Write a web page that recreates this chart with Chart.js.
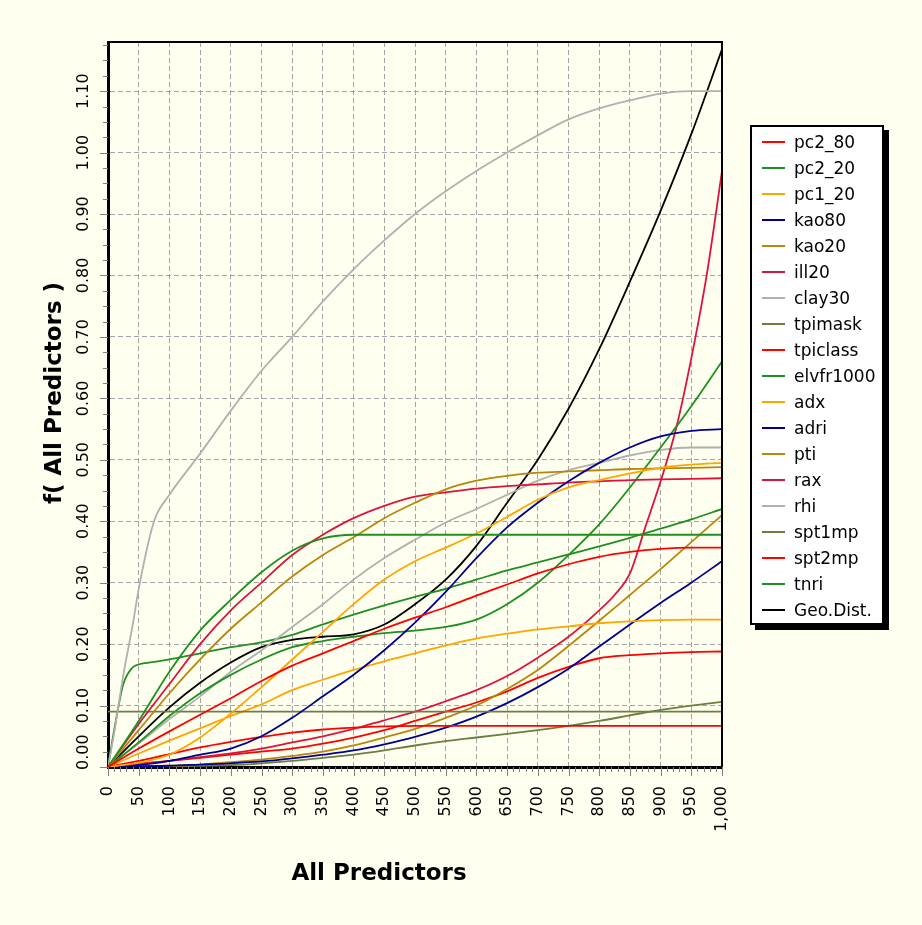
<!DOCTYPE html>
<html>
<head>
<meta charset="utf-8">
<script src="https://cdn.jsdelivr.net/npm/chart.js@4.4.0/dist/chart.umd.min.js"></script>
<style>
  body { margin: 0; background: #FFFFF0; }
  #wrap { position: relative; width: 922px; height: 925px; }
  #legend {
    position: absolute; left: 750px; top: 125px; width: 134px;
    box-sizing: border-box; border: 2px solid #000; background: #fff;
    box-shadow: 5px 5px 0 #000; padding: 2px 0 0 0;
    font-family: "DejaVu Sans", sans-serif; font-size: 17px; color: #000;
  }
  .row { height: 26px; display: flex; align-items: center; }
  .swatch { width: 23px; height: 2px; margin-left: 10px; margin-right: 9px; }
</style>
</head>
<body>
<div id="wrap">
  <canvas id="c" width="922" height="925"></canvas>
  <div id="legend"></div>
</div>
<script>
// Ejes
const X = [0, 50, 100, 150, 200, 250, 300, 350, 400, 450, 500, 550, 600, 650, 700, 750, 800, 850, 900, 950, 1000];
const X_START = [0, 10, 25, 40, 50, 75, 100, 150, 200, 250, 300, 350, 400, 450, 500, 550, 600, 650, 700, 750, 800, 850, 900, 950, 1000];
const X_END = [0, 50, 100, 150, 200, 250, 300, 350, 400, 450, 500, 550, 600, 650, 700, 750, 800, 825, 850, 875, 900, 925, 950, 975, 1000];
const Y_TICKS = [0, 0.1, 0.2, 0.3, 0.4, 0.5, 0.6, 0.7, 0.8, 0.9, 1.0, 1.1];

// Series
const pc2_80 = [0, 0.03, 0.058, 0.085, 0.112, 0.14, 0.165, 0.185, 0.205, 0.225, 0.243, 0.26, 0.279, 0.297, 0.315, 0.33, 0.342, 0.35, 0.355, 0.357, 0.357];
const pc2_20 = [0, 0.075, 0.155, 0.222, 0.272, 0.317, 0.352, 0.372, 0.378, 0.378, 0.378, 0.378, 0.378, 0.378, 0.378, 0.378, 0.378, 0.378, 0.378, 0.378, 0.378];
const pc1_20 = [0, 0.007, 0.02, 0.048, 0.087, 0.13, 0.175, 0.22, 0.265, 0.305, 0.335, 0.357, 0.38, 0.407, 0.435, 0.455, 0.467, 0.478, 0.487, 0.492, 0.495];
const kao80 = [0, 0.003, 0.01, 0.02, 0.03, 0.05, 0.08, 0.115, 0.15, 0.19, 0.235, 0.285, 0.34, 0.39, 0.43, 0.465, 0.495, 0.52, 0.538, 0.547, 0.55];
const kao20 = [0, 0.06, 0.12, 0.175, 0.225, 0.268, 0.31, 0.345, 0.374, 0.405, 0.43, 0.452, 0.466, 0.474, 0.479, 0.481, 0.483, 0.485, 0.486, 0.487, 0.488];
const ill20 = [0, 0.07, 0.135, 0.2, 0.255, 0.30, 0.345, 0.378, 0.405, 0.425, 0.44, 0.447, 0.453, 0.457, 0.46, 0.463, 0.465, 0.467, 0.468, 0.469, 0.47];
const clay30 = [0, 0.055, 0.15, 0.23, 0.29, 0.40, 0.443, 0.51, 0.58, 0.645, 0.70, 0.758, 0.81, 0.857, 0.90, 0.937, 0.97, 1.0, 1.028, 1.054, 1.072, 1.085, 1.096, 1.10, 1.10];
const tpimask = [0.09, 0.09, 0.09, 0.09, 0.09, 0.09, 0.09, 0.09, 0.09, 0.09, 0.09, 0.09, 0.09, 0.09, 0.09, 0.09, 0.09, 0.09, 0.09, 0.09, 0.09];
const tpiclass = [0, 0.01, 0.021, 0.032, 0.041, 0.049, 0.056, 0.061, 0.064, 0.066, 0.067, 0.067, 0.067, 0.067, 0.067, 0.067, 0.067, 0.067, 0.067, 0.067, 0.067];
const elvfr1000 = [0, 0.04, 0.083, 0.12, 0.15, 0.175, 0.195, 0.205, 0.212, 0.218, 0.222, 0.228, 0.24, 0.265, 0.30, 0.345, 0.395, 0.455, 0.52, 0.587, 0.66];
const adx = [0, 0.022, 0.043, 0.063, 0.083, 0.102, 0.125, 0.142, 0.158, 0.172, 0.185, 0.198, 0.209, 0.217, 0.224, 0.229, 0.234, 0.237, 0.239, 0.24, 0.24];
const adri = [0, 0.001, 0.002, 0.004, 0.006, 0.009, 0.014, 0.02, 0.027, 0.037, 0.049, 0.064, 0.082, 0.104, 0.13, 0.16, 0.196, 0.232, 0.267, 0.30, 0.335];
const pti = [0, 0.001, 0.002, 0.004, 0.008, 0.012, 0.018, 0.025, 0.035, 0.048, 0.062, 0.08, 0.10, 0.127, 0.158, 0.197, 0.238, 0.28, 0.322, 0.366, 0.41];
const rax = [0, 0.005, 0.01, 0.016, 0.022, 0.03, 0.04, 0.05, 0.062, 0.076, 0.09, 0.107, 0.125, 0.148, 0.178, 0.212, 0.255, 0.28, 0.315, 0.39, 0.465, 0.55, 0.665, 0.80, 0.97];
const rhi = [0, 0.038, 0.078, 0.115, 0.155, 0.19, 0.228, 0.265, 0.305, 0.34, 0.37, 0.398, 0.42, 0.443, 0.466, 0.483, 0.495, 0.507, 0.516, 0.52, 0.52];
const spt1mp = [0, 0, 0.001, 0.002, 0.003, 0.006, 0.01, 0.015, 0.02, 0.027, 0.035, 0.042, 0.048, 0.054, 0.06, 0.067, 0.075, 0.084, 0.093, 0.10, 0.106];
const spt2mp = [0, 0.005, 0.01, 0.015, 0.02, 0.025, 0.03, 0.038, 0.048, 0.06, 0.075, 0.09, 0.105, 0.123, 0.145, 0.163, 0.177, 0.182, 0.185, 0.187, 0.188];
const tnri = [0, 0.06, 0.135, 0.162, 0.167, 0.171, 0.175, 0.185, 0.195, 0.203, 0.215, 0.232, 0.248, 0.263, 0.277, 0.29, 0.305, 0.32, 0.333, 0.346, 0.359, 0.373, 0.388, 0.403, 0.42];
const geoDist = [0, 0.05, 0.097, 0.137, 0.17, 0.195, 0.207, 0.212, 0.216, 0.232, 0.265, 0.305, 0.36, 0.43, 0.50, 0.583, 0.68, 0.79, 0.905, 1.03, 1.168];

const RED = '#FF0000', GREEN = '#1F8F1F', ORANGE = '#FFA500', NAVY = '#000090',
      GOLD = '#B8860B', CRIMSON = '#DC143C', SILVER = '#B0B0B0', OLIVE = '#6B7F3F';

function serie(label, color, xs, ys) {
    return {
        label: label,
        data: xs.map((x, i) => ({ x: x, y: ys[i] })),
        borderColor: color,
        backgroundColor: color,
        borderWidth: 1.8,
        pointRadius: 0,
        fill: false,
        cubicInterpolationMode: 'monotone'
    };
}

const datasets = [
    serie('pc2_80', RED, X, pc2_80),
    serie('pc2_20', GREEN, X, pc2_20),
    serie('pc1_20', ORANGE, X, pc1_20),
    serie('kao80', NAVY, X, kao80),
    serie('kao20', GOLD, X, kao20),
    serie('ill20', CRIMSON, X, ill20),
    serie('clay30', SILVER, X_START, clay30),
    serie('tpimask', OLIVE, X, tpimask),
    serie('tpiclass', RED, X, tpiclass),
    serie('elvfr1000', GREEN, X, elvfr1000),
    serie('adx', ORANGE, X, adx),
    serie('adri', NAVY, X, adri),
    serie('pti', GOLD, X, pti),
    serie('rax', CRIMSON, X_END, rax),
    serie('rhi', SILVER, X, rhi),
    serie('spt1mp', OLIVE, X, spt1mp),
    serie('spt2mp', RED, X, spt2mp),
    serie('tnri', GREEN, X_START, tnri),
    serie('Geo.Dist.', '#000000', X, geoDist)
];

// Marcas menores, etiquetas del eje Y, titulos y borde
const decoracion = {
    id: 'decoracion',
    afterDraw(chart) {
        const ctx = chart.ctx;
        const xs = chart.scales.x, ys = chart.scales.y;
        const area = chart.chartArea;
        ctx.save();
        ctx.strokeStyle = '#808080';
        ctx.lineWidth = 1;
        ctx.beginPath();
        for (let i = 0; i <= 47; i++) {
            const py = Math.round(ys.getPixelForValue(i * 0.025)) + 0.5;
            const len = i % 4 === 0 ? 8 : 5;
            ctx.moveTo(area.left - len, py);
            ctx.lineTo(area.left, py);
        }
        for (let v = 0; v <= 1000; v += 10) {
            const px = Math.round(xs.getPixelForValue(v)) + 0.5;
            const len = v % 50 === 0 ? 9 : 5;
            ctx.moveTo(px, area.bottom);
            ctx.lineTo(px, area.bottom + len);
        }
        ctx.stroke();

        // borde superior y derecho
        ctx.strokeStyle = '#000';
        ctx.lineWidth = 2;
        ctx.beginPath();
        ctx.moveTo(area.left, area.top);
        ctx.lineTo(area.right, area.top);
        ctx.lineTo(area.right, area.bottom);
        ctx.stroke();

        // etiquetas Y rotadas
        ctx.fillStyle = '#000';
        ctx.font = '16px "DejaVu Sans"';
        ctx.textBaseline = 'alphabetic';
        Y_TICKS.forEach(v => {
            const py = ys.getPixelForValue(v);
            ctx.save();
            if (v === 0) {
                ctx.translate(88, area.bottom + 3);
                ctx.rotate(-Math.PI / 2);
                ctx.textAlign = 'left';
            } else {
                ctx.translate(88, py);
                ctx.rotate(-Math.PI / 2);
                ctx.textAlign = 'center';
            }
            ctx.fillText(v.toFixed(2), 0, 0);
            ctx.restore();
        });

        // titulos
        ctx.font = 'bold 23px "DejaVu Sans"';
        ctx.textAlign = 'center';
        ctx.fillText('All Predictors', 379, 880);
        ctx.save();
        ctx.translate(61, 393);
        ctx.rotate(-Math.PI / 2);
        ctx.fillText('f( All Predictors )', 0, 0);
        ctx.restore();
        ctx.restore();
    }
};

const chart = new Chart(document.getElementById('c'), {
    type: 'line',
    data: { datasets: datasets },
    options: {
        responsive: false,
        animation: false,
        layout: { padding: { top: 42, right: 200, left: 0, bottom: 0 } },
        plugins: { legend: { display: false }, tooltip: { enabled: false } },
        scales: {
            x: {
                type: 'linear',
                min: 0,
                max: 1000,
                afterFit(scale) { scale.height = 158; },
                grid: { color: '#A4A4A4', lineWidth: 1, drawTicks: false },
                border: { color: '#000', width: 3, dash: [5, 3] },
                ticks: {
                    stepSize: 50,
                    autoSkip: false,
                    minRotation: 90,
                    maxRotation: 90,
                    padding: 19,
                    color: '#000',
                    font: { family: 'DejaVu Sans', size: 16 },
                    callback: v => v.toLocaleString('en-US')
                }
            },
            y: {
                type: 'linear',
                min: 0,
                max: 1.18,
                afterFit(scale) { scale.width = 108; },
                afterBuildTicks(scale) { scale.ticks = Y_TICKS.map(v => ({ value: v })); },
                grid: { color: '#A4A4A4', lineWidth: 1, drawTicks: false },
                border: { color: '#000', width: 3, dash: [5, 3] },
                ticks: { display: false }
            }
        }
    },
    plugins: [decoracion]
});

// Leyenda en HTML
const legend = document.getElementById('legend');
legend.innerHTML = datasets.map(d =>
    `<div class="row"><span class="swatch" style="background:${d.borderColor}"></span>${d.label}</div>`
).join('');
</script>
</body>
</html>
